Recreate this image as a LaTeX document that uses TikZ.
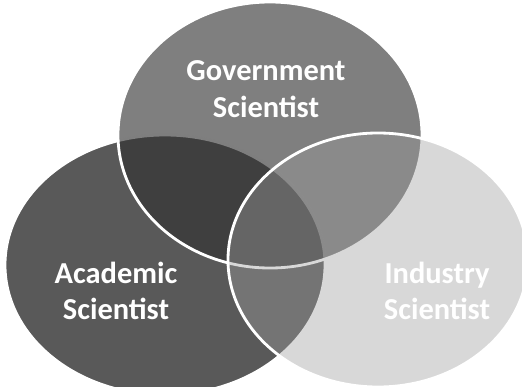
\documentclass[tikz,border=0pt]{standalone}
\usepackage{fontspec}
\setmainfont{Carlito}
\usetikzlibrary{positioning,shapes.geometric}
\definecolor{vnAcad}{gray}{0.35}
\definecolor{vnGov}{gray}{0.19}
\definecolor{vnInd}{gray}{0.62}

\begin{document}
\begin{tikzpicture}[
  x=0.03cm, y=-0.03cm,
  venn/.style={ellipse, draw=white, line width=2.4pt, inner sep=0pt, outer sep=0pt},
  lbl/.style={text=white, font=\fontsize{26}{31}\selectfont\bfseries, align=center}
]
\useasboundingbox (0,0) rectangle (522,387);
\clip (0,0) rectangle (522,387);

% the three circles
\node[venn, fill=vnAcad, minimum width=9.6cm, minimum height=7.8cm] (acad) at (165,265) {};
\node[venn, fill=vnGov, fill opacity=0.62, minimum width=9.12cm, minimum height=7.98cm] (gov) at (270,135) {};
\node[venn, fill=vnInd, fill opacity=0.4, minimum width=9.0cm, minimum height=7.62cm] (ind) at (378,260) {};

% labels
\node[lbl] (govtxt) at (266,89) {Government\\Scientist};
\node[lbl] (acadtxt) at (116,291) {Academic\\Scientist};
\node[lbl] (indtxt) at (437,291) {Industry\\Scientist};

\end{tikzpicture}
\end{document}
